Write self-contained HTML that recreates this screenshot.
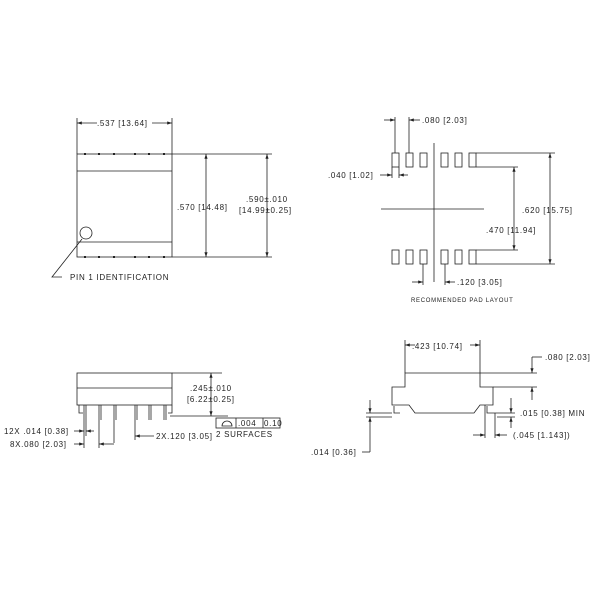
<!DOCTYPE html>
<html><head><style>body{margin:0;background:#fff}svg{display:block}text{font-family:"Liberation Sans",sans-serif;font-size:8px;fill:#222;letter-spacing:0.7px}</style></head><body>
<svg width="600" height="600" viewBox="0 0 600 600" stroke="#222" stroke-width="0.8" fill="none">
<defs><marker id="a" markerWidth="6" markerHeight="4" refX="6" refY="2" orient="auto-start-reverse"><path d="M0,0L6,2L0,4z" fill="#222" stroke="none"/></marker></defs>
<rect x="77" y="154" width="95" height="103"/>
<line x1="77" y1="171" x2="172" y2="171"/><line x1="77" y1="242" x2="172" y2="242"/>
<g fill="#222" stroke="none">
<rect x="84" y="153" width="2" height="2"/><rect x="98" y="153" width="2" height="2"/><rect x="113" y="153" width="2" height="2"/><rect x="134" y="153" width="2" height="2"/><rect x="148" y="153" width="2" height="2"/><rect x="163" y="153" width="2" height="2"/>
<rect x="84" y="256" width="2" height="2"/><rect x="98" y="256" width="2" height="2"/><rect x="113" y="256" width="2" height="2"/><rect x="134" y="256" width="2" height="2"/><rect x="148" y="256" width="2" height="2"/><rect x="163" y="256" width="2" height="2"/></g>
<line x1="77" y1="118" x2="77" y2="154"/><line x1="172" y1="118" x2="172" y2="154"/>
<line x1="77" y1="123" x2="97" y2="123" marker-start="url(#a)"/><line x1="152" y1="123" x2="172" y2="123" marker-end="url(#a)"/>
<line x1="172" y1="154" x2="272" y2="154"/><line x1="172" y1="257" x2="272" y2="257"/>
<line x1="206" y1="154" x2="206" y2="257" marker-start="url(#a)" marker-end="url(#a)"/>
<line x1="267" y1="154" x2="267" y2="257" marker-start="url(#a)" marker-end="url(#a)"/>
<circle cx="86" cy="233" r="6"/>
<polyline points="82,239 52,277 62,277"/>
<g>
<rect x="392" y="153" width="7" height="14"/><rect x="406" y="153" width="7" height="14"/><rect x="420" y="153" width="7" height="14"/><rect x="441" y="153" width="7" height="14"/><rect x="455" y="153" width="7" height="14"/><rect x="469" y="153" width="7" height="14"/>
<rect x="392" y="250" width="7" height="14"/><rect x="406" y="250" width="7" height="14"/><rect x="420" y="250" width="7" height="14"/><rect x="441" y="250" width="7" height="14"/><rect x="455" y="250" width="7" height="14"/><rect x="469" y="250" width="7" height="14"/></g>
<line x1="434" y1="143" x2="434" y2="282"/><line x1="381" y1="209" x2="484" y2="209"/>
<line x1="476" y1="153" x2="555" y2="153"/><line x1="476" y1="167" x2="518" y2="167"/>
<line x1="476" y1="250" x2="518" y2="250"/><line x1="476" y1="264" x2="555" y2="264"/>
<line x1="550" y1="153" x2="550" y2="264" marker-start="url(#a)" marker-end="url(#a)"/>
<line x1="514" y1="167" x2="514" y2="250" marker-start="url(#a)" marker-end="url(#a)"/>
<line x1="395" y1="117" x2="395" y2="153"/><line x1="409" y1="117" x2="409" y2="153"/>
<line x1="384" y1="120" x2="395" y2="120" marker-end="url(#a)"/><line x1="409" y1="120" x2="420" y2="120" marker-start="url(#a)"/>
<line x1="392" y1="167" x2="392" y2="178"/><line x1="399" y1="167" x2="399" y2="178"/>
<line x1="380" y1="175" x2="392" y2="175" marker-end="url(#a)"/><line x1="399" y1="175" x2="408" y2="175" marker-start="url(#a)"/>
<line x1="423" y1="264" x2="423" y2="285"/><line x1="445" y1="264" x2="445" y2="285"/>
<line x1="412" y1="282" x2="423" y2="282" marker-end="url(#a)"/><line x1="445" y1="282" x2="455" y2="282" marker-start="url(#a)"/>
<rect x="77" y="373" width="95" height="32"/><line x1="77" y1="388" x2="172" y2="388"/>
<polyline points="79,405 79,413 83,413"/><polyline points="172,405 172,413 168,413"/>
<g><line x1="84" y1="405" x2="84" y2="420"/><line x1="99" y1="405" x2="99" y2="420"/><line x1="114" y1="405" x2="114" y2="420"/><line x1="135" y1="405" x2="135" y2="420"/><line x1="149" y1="405" x2="149" y2="420"/><line x1="164" y1="405" x2="164" y2="420"/>
<line x1="86" y1="405" x2="86" y2="420"/><line x1="101" y1="405" x2="101" y2="420"/><line x1="116" y1="405" x2="116" y2="420"/><line x1="137" y1="405" x2="137" y2="420"/><line x1="151" y1="405" x2="151" y2="420"/><line x1="166" y1="405" x2="166" y2="420"/></g>
<line x1="172" y1="373" x2="222" y2="373"/><line x1="170" y1="416" x2="228" y2="416"/>
<line x1="211" y1="373" x2="211" y2="416" marker-start="url(#a)" marker-end="url(#a)"/>
<rect x="216" y="418" width="64" height="10"/><line x1="236" y1="418" x2="236" y2="428"/><line x1="263" y1="418" x2="263" y2="428"/>
<path d="M222,426 a5,5 0 0 1 10,0 z"/>
<line x1="84" y1="420" x2="84" y2="448"/><line x1="86" y1="420" x2="86" y2="436"/><line x1="99" y1="420" x2="99" y2="448"/><line x1="114" y1="420" x2="114" y2="443"/><line x1="135" y1="420" x2="135" y2="440"/>
<line x1="74" y1="431" x2="84" y2="431" marker-end="url(#a)"/><line x1="86" y1="431" x2="94" y2="431" marker-start="url(#a)"/>
<line x1="74" y1="444" x2="84" y2="444" marker-end="url(#a)"/><line x1="99" y1="444" x2="114" y2="444" marker-start="url(#a)"/>
<line x1="135" y1="436" x2="154" y2="436" marker-start="url(#a)"/>
<path d="M405,373 L480,373 L480,387 L493,387 L493,405 L480,405 L474,413 L415,413 L409,405 L392,405 L392,387 L405,387 Z"/>
<polyline points="394,406 394,413 400,413"/><polyline points="487,406 487,413 495,413"/>
<line x1="405" y1="340" x2="405" y2="373"/><line x1="480" y1="340" x2="480" y2="373"/>
<line x1="405" y1="345" x2="415" y2="345" marker-start="url(#a)"/><line x1="470" y1="345" x2="480" y2="345" marker-end="url(#a)"/>
<line x1="480" y1="373" x2="537" y2="373"/><line x1="493" y1="387" x2="537" y2="387"/>
<line x1="532" y1="357" x2="532" y2="373" marker-end="url(#a)"/><line x1="532" y1="400" x2="532" y2="387" marker-end="url(#a)"/>
<polyline points="532,357 542,357"/>
<line x1="495" y1="413" x2="515" y2="413"/><line x1="497" y1="417" x2="515" y2="417"/>
<line x1="511" y1="398" x2="511" y2="413" marker-end="url(#a)"/><line x1="511" y1="428" x2="511" y2="417" marker-end="url(#a)"/>
<line x1="485" y1="405" x2="485" y2="438"/><line x1="495" y1="413" x2="495" y2="438"/>
<line x1="473" y1="435" x2="485" y2="435" marker-end="url(#a)"/><line x1="507" y1="435" x2="495" y2="435" marker-end="url(#a)"/>
<line x1="366" y1="413" x2="392" y2="413"/><line x1="366" y1="417" x2="392" y2="417"/>
<line x1="370" y1="400" x2="370" y2="413" marker-end="url(#a)"/><line x1="370" y1="452" x2="370" y2="417" marker-end="url(#a)"/>
<line x1="362" y1="452" x2="370" y2="452"/>
<g stroke="none">
<text x="97" y="126">.537 [13.64]</text>
<text x="177" y="210">.570 [14.48]</text>
<text x="246" y="202">.590±.010</text>
<text x="239" y="213">[14.99±0.25]</text>
<text x="70" y="280">PIN 1 IDENTIFICATION</text>
<text x="422" y="123">.080 [2.03]</text>
<text x="328" y="178">.040 [1.02]</text>
<text x="522" y="213">.620 [15.75]</text>
<text x="486" y="233">.470 [11.94]</text>
<text x="457" y="285">.120 [3.05]</text>
<text x="411" y="302" style="font-size:6px">RECOMMENDED PAD LAYOUT</text>
<text x="190" y="391">.245±.010</text>
<text x="187" y="402">[6.22±0.25]</text>
<text x="238" y="426">.004</text><text x="264" y="426">0.10</text>
<text x="216" y="437">2 SURFACES</text>
<text x="4" y="434">12X .014 [0.38]</text>
<text x="10" y="447">8X.080 [2.03]</text>
<text x="156" y="439">2X.120 [3.05]</text>
<text x="412" y="349">.423 [10.74]</text>
<text x="545" y="360">.080 [2.03]</text>
<text x="520" y="416">.015 [0.38]  MIN</text>
<text x="513" y="438">(.045 [1.143])</text>
<text x="311" y="455">.014 [0.36]</text>
</g>
</svg>
</body></html>
